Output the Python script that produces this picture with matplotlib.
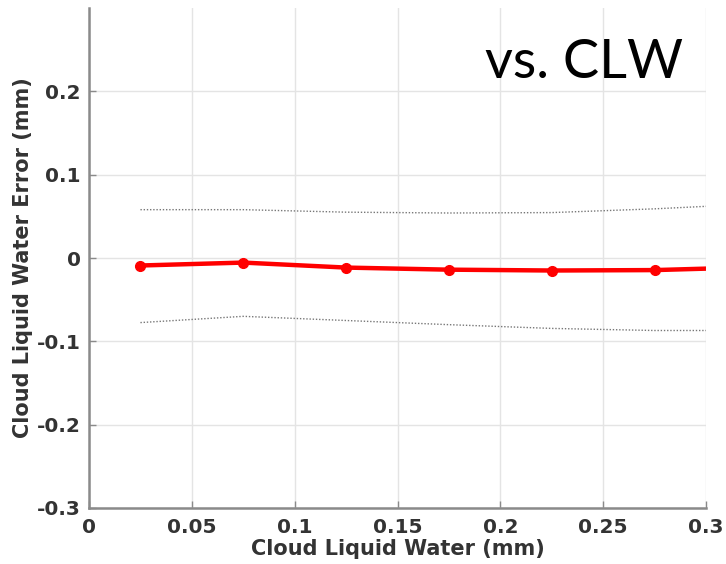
import matplotlib
matplotlib.use("Agg")
import matplotlib.pyplot as plt

# Binned cloud liquid water error statistics
clw_bins = [0.025, 0.075, 0.125, 0.175, 0.225, 0.275, 0.325]
mean_err = [-0.009, -0.0055, -0.0115, -0.014, -0.015, -0.0145, -0.011]
upper_bound = [0.058, 0.058, 0.055, 0.054, 0.0545, 0.059, 0.065]
lower_bound = [-0.0775, -0.070, -0.075, -0.080, -0.0845, -0.087, -0.087]

x_ticks = [0, 0.05, 0.1, 0.15, 0.2, 0.25, 0.3]
x_tick_labels = ["0", "0.05", "0.1", "0.15", "0.2", "0.25", "0.3"]
y_ticks = [-0.3, -0.2, -0.1, 0, 0.1, 0.2]
y_tick_labels = ["-0.3", "-0.2", "-0.1", "0", "0.1", "0.2"]

fig = plt.figure(figsize=(7.26, 5.64), dpi=100)
ax = fig.add_axes([0.1226, 0.0993, 0.8499, 0.8865])

ax.plot(clw_bins, upper_bound, linestyle=(0, (1, 1.3)), color="#777777", linewidth=1.0)
ax.plot(clw_bins, lower_bound, linestyle=(0, (1, 1.3)), color="#777777", linewidth=1.0)
ax.plot(clw_bins, mean_err, color="#ff0000", linewidth=3.2, marker="o",
        markersize=7, markeredgecolor="#ff0000", markerfacecolor="#ff0000")

ax.set_xlim(0, 0.3)
ax.set_ylim(-0.3, 0.3)
ax.set_xticks(x_ticks)
ax.set_xticklabels(x_tick_labels)
ax.set_yticks(y_ticks)
ax.set_yticklabels(y_tick_labels)

ax.grid(True, color="#e4e4e4", linewidth=1.0)
ax.set_axisbelow(True)
for side in ("top", "right"):
    ax.spines[side].set_visible(False)
for side in ("left", "bottom"):
    ax.spines[side].set_color("#8a8a8a")
    ax.spines[side].set_linewidth(1.8)

ax.tick_params(direction="in", length=5, width=1, color="#8a8a8a",
               labelsize=14.5, labelcolor="#333333")
ax.tick_params(axis="y", pad=6)
ax.tick_params(axis="x", pad=7)
for lab in ax.get_xticklabels() + ax.get_yticklabels():
    lab.set_fontweight("bold")

ax.set_xlabel("Cloud Liquid Water (mm)", fontsize=15, fontweight="bold",
              color="#333333", labelpad=2)
ax.set_ylabel("Cloud Liquid Water Error (mm)", fontsize=15, fontweight="bold",
              color="#333333", labelpad=3)

fig.text(0.941, 0.861, "vs. CLW", fontsize=39, family="Lato", color="black",
         ha="right", va="baseline")

fig.savefig("out.png", dpi=100)
